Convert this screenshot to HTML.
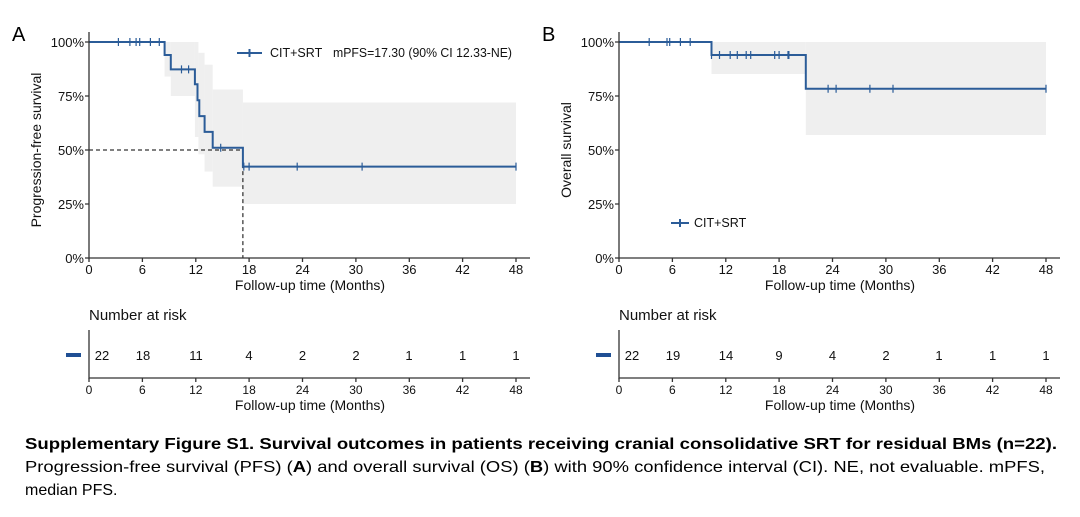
<!DOCTYPE html>
<html><head><meta charset="utf-8"><style>
body{margin:0;background:#fff;width:1080px;height:517px;overflow:hidden}
svg{display:block;font-family:"Liberation Sans",Arial,sans-serif}
</style></head><body>
<svg width="1080" height="517" viewBox="0 0 1080 517" xmlns="http://www.w3.org/2000/svg">
<rect width="1080" height="517" fill="#fff"/>
<!-- Panel A -->
<text x="12" y="41" font-size="20" fill="#000">A</text>
<g fill="#efefef">
<rect x="164.6" y="42" width="6.2" height="34.6"/>
<rect x="170.8" y="42" width="24.1" height="54"/>
<rect x="194.9" y="42" width="3.5" height="95"/>
<rect x="198.4" y="52.8" width="6.2" height="101.5"/>
<rect x="204.6" y="64.7" width="8.1" height="106.9"/>
<rect x="212.7" y="89.5" width="30.2" height="97.2"/>
<rect x="242.9" y="102.5" width="273.1" height="101.5"/>
</g>
<path d="M89,150 H242.9 V258" fill="none" stroke="#000" stroke-width="1" stroke-dasharray="4,3"/>
<path d="M89,42 H164.6 V55 H170.8 V69.4 H194.9 V84.3 H197.5 V100.3 H199.3 V116.1 H204.6 V131.9 H212.7 V147.8 H242.9 V166.6 H516" fill="none" stroke="#2b5c98" stroke-width="2"/>
<g stroke="#2b5c98" stroke-width="1.2">
<path d="M118.4,38v8M129.9,38v8M136.1,38v8M139.7,38v8M150.4,38v8M159.3,38v8M181.5,65.4v8M188.6,65.4v8M220.7,143.8v8M243.8,162.6v8M249.1,162.6v8M297.2,162.6v8M362.1,162.6v8M516,162.6v8"/>
</g>
<g stroke="#333" stroke-width="1.3" fill="none">
<path d="M89,32 V258 H530"/>
<path d="M89,258v4M142.4,258v4M195.8,258v4M249.1,258v4M302.5,258v4M355.9,258v4M409.3,258v4M462.6,258v4M516,258v4"/>
<path d="M85,42h4M85,96h4M85,150h4M85,204h4M85,258h4"/>
</g>
<g font-size="13" fill="#111" text-anchor="end">
<text x="84" y="47">100%</text><text x="84" y="101">75%</text><text x="84" y="155">50%</text><text x="84" y="209">25%</text><text x="84" y="263">0%</text>
</g>
<g font-size="13" fill="#111" text-anchor="middle">
<text x="89" y="274">0</text><text x="142.4" y="274">6</text><text x="195.8" y="274">12</text><text x="249.1" y="274">18</text><text x="302.5" y="274">24</text><text x="355.9" y="274">30</text><text x="409.3" y="274">36</text><text x="462.6" y="274">42</text><text x="516" y="274">48</text>
<text x="310" y="290" font-size="14">Follow-up time (Months)</text>
<text transform="translate(41,150) rotate(-90)" font-size="14">Progression-free survival</text>
</g>
<path d="M237,53 H262 M249.5,49v8" stroke="#2b5c98" stroke-width="2"/>
<text x="270" y="57" font-size="12.5" fill="#111">CIT+SRT</text>
<text x="333" y="57" font-size="12.5" fill="#111" textLength="179" lengthAdjust="spacingAndGlyphs">mPFS=17.30 (90% CI 12.33-NE)</text>
<!-- Risk A -->
<text x="89" y="320" font-size="15" fill="#111">Number at risk</text>
<rect x="66" y="353" width="15" height="4" fill="#1f4f94"/>
<path d="M89,330 V378 H530" stroke="#333" stroke-width="1.3" fill="none"/>
<path d="M89,378v4M142.4,378v4M195.8,378v4M249.1,378v4M302.5,378v4M355.9,378v4M409.3,378v4M462.6,378v4M516,378v4" stroke="#333" stroke-width="1.3"/>
<g font-size="13" fill="#111" text-anchor="middle">
<text x="102" y="360">22</text><text x="143" y="360">18</text><text x="196" y="360">11</text><text x="249" y="360">4</text><text x="302.5" y="360">2</text><text x="356" y="360">2</text><text x="409" y="360">1</text><text x="462.6" y="360">1</text><text x="516" y="360">1</text>
</g>
<g font-size="12" fill="#111" text-anchor="middle">
<text x="89" y="394">0</text><text x="142.4" y="394">6</text><text x="195.8" y="394">12</text><text x="249.1" y="394">18</text><text x="302.5" y="394">24</text><text x="355.9" y="394">30</text><text x="409.3" y="394">36</text><text x="462.6" y="394">42</text><text x="516" y="394">48</text>
<text x="310" y="410" font-size="14">Follow-up time (Months)</text>
</g>
<!-- Panel B -->
<text x="542" y="41" font-size="20" fill="#000">B</text>
<g fill="#efefef">
<rect x="711.5" y="42" width="94.3" height="32"/>
<rect x="805.8" y="42" width="240.2" height="93"/>
</g>
<path d="M619,42 H711.5 V55 H805.8 V88.7 H1046" fill="none" stroke="#2b5c98" stroke-width="2"/>
<path d="M649.2,38v8M667,38v8M669.7,38v8M680.4,38v8M690.2,38v8M711.5,51v8M719.5,51v8M730.2,51v8M737.3,51v8M746.2,51v8M750.7,51v8M774.7,51v8M779.1,51v8M788,51v8M788.9,51v8M828.1,84.7v8M836.1,84.7v8M869.9,84.7v8M893,84.7v8M1046,84.7v8" stroke="#2b5c98" stroke-width="1.2"/>
<g stroke="#333" stroke-width="1.3" fill="none">
<path d="M619,32 V258 H1060"/>
<path d="M619,258v4M672.4,258v4M725.8,258v4M779.1,258v4M832.5,258v4M885.9,258v4M939.3,258v4M992.6,258v4M1046,258v4"/>
<path d="M615,42h4M615,96h4M615,150h4M615,204h4M615,258h4"/>
</g>
<g font-size="13" fill="#111" text-anchor="end">
<text x="614" y="47">100%</text><text x="614" y="101">75%</text><text x="614" y="155">50%</text><text x="614" y="209">25%</text><text x="614" y="263">0%</text>
</g>
<g font-size="13" fill="#111" text-anchor="middle">
<text x="619" y="274">0</text><text x="672.4" y="274">6</text><text x="725.8" y="274">12</text><text x="779.1" y="274">18</text><text x="832.5" y="274">24</text><text x="885.9" y="274">30</text><text x="939.3" y="274">36</text><text x="992.6" y="274">42</text><text x="1046" y="274">48</text>
<text x="840" y="290" font-size="14">Follow-up time (Months)</text>
<text transform="translate(571,150) rotate(-90)" font-size="14">Overall survival</text>
</g>
<path d="M671,223 H689 M680,219v8" stroke="#2b5c98" stroke-width="2"/>
<text x="694" y="227" font-size="12.5" fill="#111">CIT+SRT</text>
<!-- Risk B -->
<text x="619" y="320" font-size="15" fill="#111">Number at risk</text>
<rect x="596" y="353" width="15" height="4" fill="#1f4f94"/>
<path d="M619,330 V378 H1060" stroke="#333" stroke-width="1.3" fill="none"/>
<path d="M619,378v4M672.4,378v4M725.8,378v4M779.1,378v4M832.5,378v4M885.9,378v4M939.3,378v4M992.6,378v4M1046,378v4" stroke="#333" stroke-width="1.3"/>
<g font-size="13" fill="#111" text-anchor="middle">
<text x="632" y="360">22</text><text x="673" y="360">19</text><text x="726" y="360">14</text><text x="779" y="360">9</text><text x="832.5" y="360">4</text><text x="886" y="360">2</text><text x="939" y="360">1</text><text x="992.6" y="360">1</text><text x="1046" y="360">1</text>
</g>
<g font-size="12" fill="#111" text-anchor="middle">
<text x="619" y="394">0</text><text x="672.4" y="394">6</text><text x="725.8" y="394">12</text><text x="779.1" y="394">18</text><text x="832.5" y="394">24</text><text x="885.9" y="394">30</text><text x="939.3" y="394">36</text><text x="992.6" y="394">42</text><text x="1046" y="394">48</text>
<text x="840" y="410" font-size="14">Follow-up time (Months)</text>
</g>
<!-- Caption -->
<text x="25" y="449" font-size="16" font-weight="bold" fill="#000" textLength="1032" lengthAdjust="spacingAndGlyphs">Supplementary Figure S1. Survival outcomes in patients receiving cranial consolidative SRT for residual BMs (n=22).</text>
<text x="25" y="472" font-size="16" fill="#000" textLength="1020" lengthAdjust="spacingAndGlyphs">Progression-free survival (PFS) (<tspan font-weight="bold">A</tspan>) and overall survival (OS) (<tspan font-weight="bold">B</tspan>) with 90% confidence interval (CI). NE, not evaluable. mPFS,</text>
<text x="25" y="495" font-size="16" fill="#000">median PFS.</text>
</svg>
</body></html>
